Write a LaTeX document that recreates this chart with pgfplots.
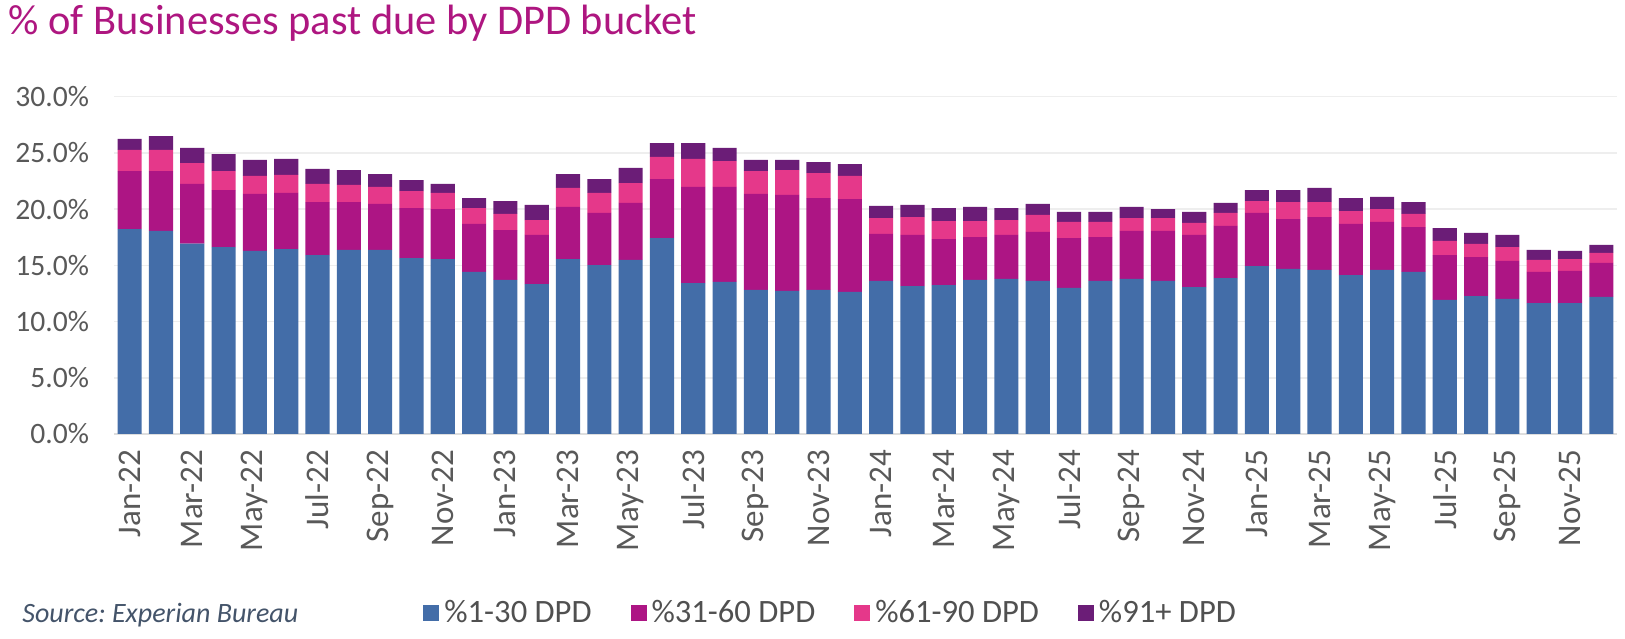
\documentclass[border=0pt]{standalone}
\usepackage{pgfplots}
\usepackage{pgfplotstable}
\usepackage{fontspec}
\setmainfont{Carlito}
\pgfplotsset{compat=1.18}
\frenchspacing
\definecolor{c1}{RGB}{67,109,168}
\definecolor{c2}{RGB}{173,21,132}
\definecolor{c3}{RGB}{229,56,138}
\definecolor{c4}{RGB}{107,29,119}
\definecolor{titlec}{RGB}{174,22,128}
\definecolor{tickc}{RGB}{89,89,89}
\definecolor{legc}{RGB}{80,80,80}
\definecolor{srcc}{RGB}{68,84,106}
\definecolor{gridc}{RGB}{238,238,238}
\definecolor{axc}{RGB}{222,222,222}
\pgfplotstableread{
x b m p u
0 18.23 5.16 1.87 0.98
1 18.06 5.33 1.87 1.24
2 16.93 5.31 1.86 1.34
3 16.63 5.07 1.69 1.51
4 16.28 5.07 1.60 1.42
5 16.45 4.99 1.60 1.42
6 15.92 4.71 1.61 1.33
7 16.37 4.26 1.52 1.33
8 16.37 4.09 1.51 1.15
9 15.65 4.45 1.51 0.98
10 15.56 4.45 1.43 0.80
11 14.41 4.27 1.42 0.89
12 13.70 4.44 1.43 1.15
13 13.34 4.36 1.33 1.34
14 15.56 4.63 1.69 1.24
15 15.03 4.63 1.78 1.24
16 15.48 5.07 1.77 1.34
17 17.43 5.25 1.96 1.24
18 13.43 8.54 2.49 1.42
19 13.52 8.45 2.31 1.16
20 12.81 8.54 2.04 0.98
21 12.72 8.54 2.22 0.89
22 12.81 8.18 2.22 0.98
23 12.63 8.27 2.05 1.06
24 13.61 4.18 1.42 1.07
25 13.16 4.54 1.60 1.07
26 13.25 4.09 1.60 1.16
27 13.70 3.82 1.42 1.25
28 13.79 3.91 1.33 1.07
29 13.61 4.36 1.51 0.98
30 12.99 4.44 1.43 0.89
31 13.61 3.91 1.34 0.89
32 13.79 4.27 1.15 0.98
33 13.61 4.45 1.15 0.80
34 13.07 4.63 1.07 0.98
35 13.87 4.63 1.16 0.89
36 14.94 4.72 1.06 0.98
37 14.68 4.44 1.51 1.07
38 14.59 4.71 1.33 1.25
39 14.14 4.54 1.15 1.16
40 14.59 4.27 1.15 1.07
41 14.41 4.00 1.16 1.06
42 11.92 4.00 1.25 1.15
43 12.27 3.47 1.16 0.98
44 12.01 3.38 1.24 1.07
45 11.65 2.76 1.07 0.89
46 11.65 2.85 1.06 0.72
47 12.19 3.02 0.89 0.71
}\data
\begin{document}
\begin{tikzpicture}
\useasboundingbox (0,0) rectangle (812.5bp,319.5bp);
\begin{axis}[
  at={(57bp,102.5bp)}, anchor=south west,
  scale only axis, width=751.5bp, height=168.65bp,
  ybar stacked, bar width=0.77,
  xmin=-0.5, xmax=47.5, ymin=0, ymax=30,
  separate axis lines,
  axis x line*=bottom, axis y line*=left,
  x axis line style={-, draw=axc, line width=1bp},
  y axis line style={draw=none},
  ymajorgrids, grid style={draw=gridc, line width=0.8bp},
  ytick={0,5,10,15,20,25,30},
  yticklabels={0.0\%,5.0\%,10.0\%,15.0\%,20.0\%,25.0\%,30.0\%},
  ytick style={draw=none},
  yticklabel style={font=\fontsize{14.8bp}{17bp}\selectfont, text=tickc, xshift=-9bp},
  xtick={0,2,...,46},
  xticklabels={Jan-22,Mar-22,May-22,Jul-22,Sep-22,Nov-22,Jan-23,Mar-23,May-23,Jul-23,Sep-23,Nov-23,Jan-24,Mar-24,May-24,Jul-24,Sep-24,Nov-24,Jan-25,Mar-25,May-25,Jul-25,Sep-25,Nov-25},
  xticklabel style={rotate=90, anchor=east, font=\fontsize{16.5bp}{19bp}\selectfont, text=tickc},
  xticklabel shift=4.5bp,
  x tick style={draw=none},
  extra x ticks={-0.5,1.5,...,47.5},
  extra x tick labels={},
  extra x tick style={tick align=outside, major tick length=4bp, tick style={draw=axc, line width=1bp}},
  legend columns=4,
  legend cell align=left,
  legend image code/.code={\fill[#1] (0bp,-4bp) rectangle (8bp,4bp);},
  legend style={draw=none, fill=none, at={(0.2056,-0.5307)}, anchor=west, inner sep=0pt,
    font=\fontsize{16.3bp}{19bp}\selectfont, text=legc,
    nodes={inner sep=2.5bp},
    /tikz/every even column/.append style={column sep=17bp}},
]
\addplot[fill=c1, draw=none] table[x=x,y=b]{\data};
\addplot[fill=c2, draw=none] table[x=x,y=m]{\data};
\addplot[fill=c3, draw=none] table[x=x,y=p]{\data};
\addplot[fill=c4, draw=none] table[x=x,y=u]{\data};
\legend{\%1-30 DPD,\%31-60 DPD,\%61-90 DPD,\%91+ DPD}
\end{axis}
\node[anchor=base west, inner sep=0pt, text=titlec, font=\fontsize{21.2bp}{25bp}\selectfont] at (4bp,302bp) {\% of Businesses past due by DPD bucket};
\node[anchor=base west, inner sep=0pt, text=srcc, font=\itshape\fontsize{14bp}{17bp}\selectfont] at (11bp,8.5bp) {Source: Experian Bureau};
\end{tikzpicture}
\end{document}
